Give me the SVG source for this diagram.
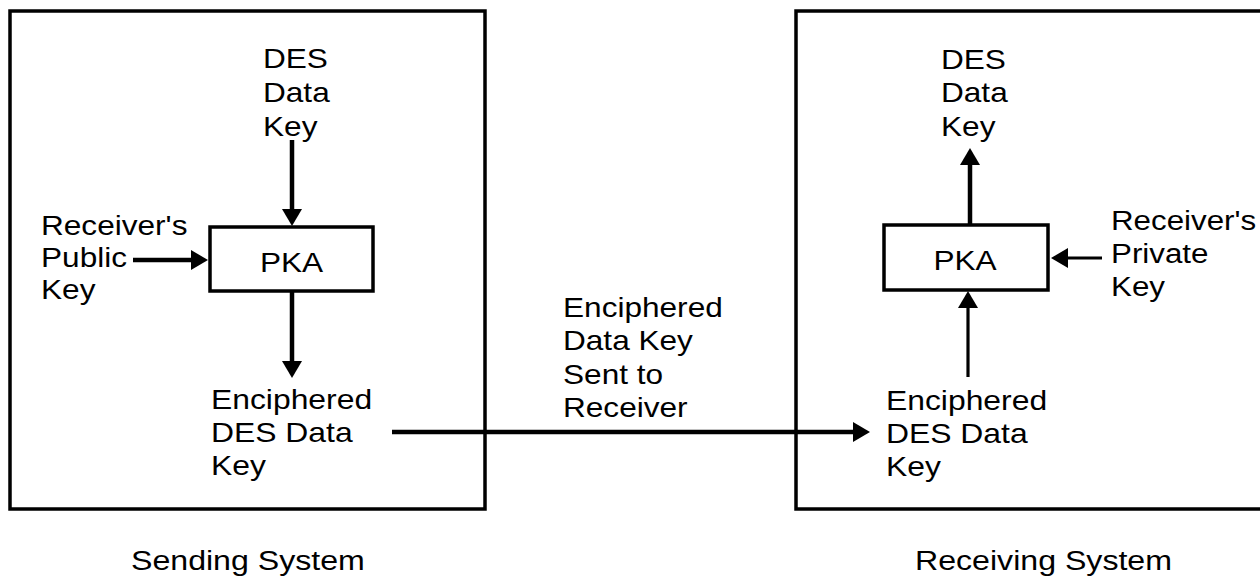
<svg xmlns="http://www.w3.org/2000/svg" width="1260" height="582" viewBox="0 0 1260 582">
<style>
  text { font-family: "Liberation Sans", Arial, sans-serif; font-size: 27px; fill: #000; }
  .frame { fill: none; stroke: #000; stroke-width: 3.5; }
  .pka { fill: #fff; stroke: #000; stroke-width: 3.5; }
  .conn { fill: none; stroke: #000; stroke-width: 4.5; }
  .thin { stroke-width: 3.2; }
</style>
<defs>
  <marker id="ah" markerUnits="userSpaceOnUse" markerWidth="18" markerHeight="22" refX="7" refY="10" orient="auto">
    <path d="M0,0 L17,10 L0,20 z" fill="#000"/>
  </marker>
</defs>
<rect width="1260" height="582" fill="#fff"/>

<g id="sending-system">
  <rect class="frame" x="10" y="11" width="475" height="498"/>
  <text transform="translate(131,570) scale(1.19,1)">Sending System</text>
</g>
<g id="receiving-system">
  <rect class="frame" x="796" y="11" width="480" height="498"/>
  <text transform="translate(915,570) scale(1.19,1)">Receiving System</text>
</g>

<g id="connectors">
  <line class="conn" x1="292" y1="140" x2="292" y2="216" marker-end="url(#ah)"/>
  <line class="conn" x1="133" y1="260" x2="198" y2="260" marker-end="url(#ah)"/>
  <line class="conn" x1="292" y1="291" x2="292" y2="368" marker-end="url(#ah)"/>
  <line class="conn" x1="392" y1="432" x2="860" y2="432" marker-end="url(#ah)"/>
  <line class="conn" x1="970" y1="225" x2="970" y2="158" marker-end="url(#ah)"/>
  <line class="conn thin" x1="1102" y1="258" x2="1061" y2="258" marker-end="url(#ah)"/>
  <line class="conn thin" x1="968" y1="377" x2="968" y2="301" marker-end="url(#ah)"/>
</g>

<g id="send-des-key">
  <text transform="translate(263,68) scale(1.17,1)"><tspan x="0" y="0">DES</tspan><tspan x="0" y="34">Data</tspan><tspan x="0" y="68">Key</tspan></text>
</g>
<g id="send-public-key">
  <text transform="translate(41,235) scale(1.17,1)"><tspan x="0" y="0">Receiver's</tspan><tspan x="0" y="32">Public</tspan><tspan x="0" y="64">Key</tspan></text>
</g>
<g id="send-pka">
  <rect class="pka" x="210" y="227" width="163" height="64"/>
  <text text-anchor="middle" transform="translate(291.5,272) scale(1.17,1)">PKA</text>
</g>
<g id="send-enciphered">
  <text transform="translate(211,409) scale(1.18,1)"><tspan x="0" y="0">Enciphered</tspan><tspan x="0" y="33">DES Data</tspan><tspan x="0" y="66">Key</tspan></text>
</g>
<g id="transfer-label">
  <text transform="translate(563,317) scale(1.17,1)"><tspan x="0" y="0">Enciphered</tspan><tspan x="0" y="33.3">Data Key</tspan><tspan x="0" y="66.6">Sent to</tspan><tspan x="0" y="100">Receiver</tspan></text>
</g>
<g id="recv-des-key">
  <text transform="translate(941,69) scale(1.17,1)"><tspan x="0" y="0">DES</tspan><tspan x="0" y="33.5">Data</tspan><tspan x="0" y="67">Key</tspan></text>
</g>
<g id="recv-pka">
  <rect class="pka" x="884" y="225" width="164" height="65"/>
  <text text-anchor="middle" transform="translate(965,270) scale(1.17,1)">PKA</text>
</g>
<g id="recv-private-key">
  <text transform="translate(1111,230) scale(1.16,1)"><tspan x="0" y="0">Receiver's</tspan><tspan x="0" y="33">Private</tspan><tspan x="0" y="66">Key</tspan></text>
</g>
<g id="recv-enciphered">
  <text transform="translate(886,410) scale(1.18,1)"><tspan x="0" y="0">Enciphered</tspan><tspan x="0" y="33">DES Data</tspan><tspan x="0" y="66">Key</tspan></text>
</g>
</svg>
